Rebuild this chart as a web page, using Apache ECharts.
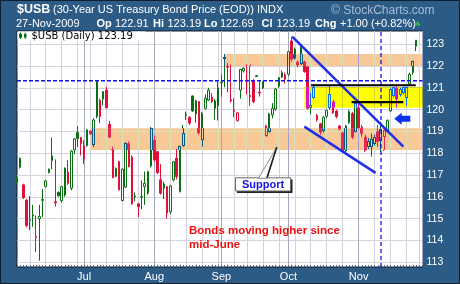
<!DOCTYPE html>
<html>
<head>
<meta charset="utf-8">
<script src="https://cdn.jsdelivr.net/npm/echarts@6/dist/echarts.min.js"></script>
<style>
  html, body { margin: 0; padding: 0; background: #2c5b86; }
  #chart { width: 460px; height: 284px; }
</style>
</head>
<body>
<div id="chart"></div>
<script>
// Trading days per month, 2009 (bond market sessions)
const juneDays = [2,3,4,5,8,9,10,11,12,15,16,17,18,19,22,23,24,25,26,29,30];
const julyDays = [1,2,6,7,8,9,10,13,14,15,16,17,20,21,22,23,24,27,28,29,30,31];
const augDays  = [3,4,5,6,7,10,11,12,13,14,17,18,19,20,21,24,25,26,27,28,31];
const sepDays  = [1,2,3,4,8,9,10,11,14,15,16,17,18,21,22,23,24,25,28,29,30];
const octDays  = [1,2,5,6,7,8,9,12,13,14,15,16,19,20,21,22,23,26,27,28,29,30];
const novDays  = [2,3,4,5,6,9,10,11,12,13,16,17,18,19,20,23,24,25,27];
// two empty sessions of head-room at the right edge
const padDates = ['2009-11-30', '2009-12-01'];

// $USB daily prices
const open = [
  116.67,117.36,116.55,115.85,114.92,115.12,114.17,115.00,115.84,116.47,
  117.11,117.66,115.78,116.20,115.82,116.08,117.14,116.40,118.15,118.95,
  118.72,117.74,118.35,119.02,118.38,119.68,120.44,120.49,120.90,119.33,
  118.18,116.93,117.61,115.83,116.45,118.45,117.82,116.00,115.68,115.98,
  116.47,116.17,117.42,118.61,118.07,116.78,116.39,116.47,115.32,116.78,
  117.77,116.24,118.35,119.74,119.65,120.63,119.80,120.37,118.61,120.06,
  120.44,120.57,120.06,120.20,121.23,122.34,122.00,120.45,119.98,119.50,
  120.90,121.78,121.35,120.65,121.32,121.52,120.80,121.28,118.80,119.02,
  119.76,120.02,121.09,121.50,121.60,121.62,123.15,122.77,122.20,122.10,
  122.20,121.97,120.10,120.54,119.73,119.35,119.05,119.70,120.09,120.37,
  119.94,119.25,118.95,118.10,119.40,119.82,119.02,120.10,119.20,118.75,
  118.33,118.33,118.45,119.00,118.60,118.75,119.02,119.94,120.63,121.00,
  120.71,120.78,120.58,121.19,121.70,122.91
];
const high = [
  116.90,117.80,116.60,115.90,116.04,115.63,115.14,115.63,116.35,116.78,
  117.30,118.72,117.72,116.25,116.50,117.35,117.69,118.15,118.70,119.25,
  118.75,118.60,119.10,119.05,119.60,121.33,120.50,120.85,121.05,119.48,
  118.30,117.35,117.65,117.30,118.50,118.55,117.90,116.20,115.72,116.75,
  117.16,117.20,119.20,118.80,118.10,117.50,116.70,116.50,116.55,117.65,
  118.20,118.35,119.30,119.91,119.70,120.65,120.45,120.40,119.90,120.70,
  121.00,120.76,120.50,121.30,121.62,122.55,122.15,122.08,120.52,119.88,
  121.88,121.95,122.08,122.08,121.40,121.60,121.30,121.30,119.30,119.85,
  120.30,121.00,121.50,121.80,121.70,122.70,123.35,122.85,122.25,122.95,
  122.25,122.00,120.78,121.18,119.80,119.40,119.70,120.00,121.09,120.45,
  120.00,119.30,119.00,119.30,120.00,119.90,120.30,120.25,119.30,118.85,
  118.70,118.90,118.85,119.30,119.45,119.15,119.55,121.00,121.05,121.10,
  121.00,121.05,121.05,121.70,122.25,123.19
];
const low = [
  116.60,117.30,115.90,114.60,114.48,114.63,113.46,113.07,115.06,116.44,
  117.08,117.27,115.55,116.00,115.75,116.00,116.55,116.30,117.95,118.30,
  117.90,117.50,118.30,118.85,118.28,119.60,119.38,120.20,120.05,118.70,
  116.85,116.90,116.30,115.80,116.40,117.35,115.65,115.80,115.06,115.44,
  115.63,116.10,117.35,117.60,117.05,116.10,115.90,115.00,115.20,116.70,
  116.80,116.20,118.30,119.53,119.30,119.90,119.40,118.85,118.30,120.00,
  120.40,120.30,119.53,119.50,120.60,121.03,120.80,120.32,119.65,119.45,
  120.50,121.70,120.70,120.17,120.30,121.50,120.60,120.95,118.75,118.95,
  119.60,119.95,121.00,121.45,121.20,121.55,122.20,122.30,121.95,122.05,
  121.70,120.00,119.79,120.50,119.45,118.85,118.95,119.60,120.00,119.80,
  119.60,119.05,118.05,118.05,119.35,118.65,118.95,119.10,118.75,118.05,
  118.20,117.85,118.35,118.30,118.05,118.10,118.95,119.90,120.55,120.10,
  120.60,120.70,120.17,121.10,121.60,122.69
];
const close = [
  116.85,117.77,115.96,114.68,114.96,115.16,114.13,115.10,115.88,116.73,
  117.27,117.88,115.73,116.05,116.47,117.31,116.62,118.10,118.66,118.68,
  118.44,118.33,119.07,118.88,119.53,121.30,119.68,120.83,120.09,118.72,
  116.88,117.31,116.32,117.27,118.43,117.39,115.67,116.04,115.55,116.02,
  116.62,117.16,119.15,117.69,117.11,116.17,116.59,115.25,116.50,117.61,
  116.93,118.30,118.89,119.78,119.38,119.94,120.41,118.92,119.83,120.52,
  120.90,120.37,120.40,121.00,121.27,122.38,121.95,120.40,119.93,119.86,
  121.85,121.90,121.30,120.60,120.37,121.56,120.76,121.00,119.25,119.80,
  120.06,120.94,121.47,121.70,121.40,122.66,122.30,122.35,122.04,122.90,
  121.74,120.06,120.17,121.03,119.53,118.95,119.65,119.97,120.70,119.86,
  119.68,119.10,118.10,119.25,119.91,118.72,120.27,119.15,118.90,118.13,
  118.56,118.64,118.72,118.53,119.10,119.05,119.51,120.94,121.01,120.48,
  120.94,121.00,121.02,121.62,122.19,123.19
];

// Price axis range
const priceMin = 112.78, priceMax = 123.61;
const monthNames = ['Jan','Feb','Mar','Apr','May','Jun','Jul','Aug','Sep','Oct','Nov','Dec'];

// Shaded zones: [fromSession, toSession, lowPrice, highPrice, kind]  kind 0 = peach, 1 = yellow
const zones = [
  [23.1, 127, 118.15, 119.15, 0],
  [65.1, 127, 122.00, 122.55, 0],
  [90.0, 127, 120.09, 121.03, 1]
];
// Drawn lines, as [session, price] pairs
const peakLevel   = [[0, 121.33], [127, 121.33]];
const markerDay   = [[114, priceMin], [114, priceMax]];
const channelTop  = [[86.2, 123.35], [121.0, 118.30]];
const channelBase = [[90.0, 119.22], [112.3, 117.10]];
const resistHigh  = [[92.1, 121.12], [124.9, 121.12]];
const resistLow   = [[104.8, 120.35], [121.0, 120.35]];

const GREEN = '#0b6e12', RED = '#e0103a';
const WEEK_GRID = '#d2d3de', MONTH_GRID = '#a3aabb';
const ZONE_FILL = ['#f8c896', '#ffff00'];
const BG = '#2c5b86';
const FONT = '"Liberation Sans", Arial, sans-serif';

// Session list
function iso(m, d) { return '2009-' + String(m).padStart(2, '0') + '-' + String(d).padStart(2, '0'); }
const dates = [].concat(
  juneDays.map(d => iso(6, d)), julyDays.map(d => iso(7, d)), augDays.map(d => iso(8, d)),
  sepDays.map(d => iso(9, d)), octDays.map(d => iso(10, d)), novDays.map(d => iso(11, d))
);
const axisDates = dates.concat(padDates);
const dow = s => new Date(s + 'T00:00:00Z').getUTCDay();
const mon = s => parseInt(s.slice(5, 7), 10);
const weekStart = axisDates.map((s, i) => i > 0 && dow(s) <= dow(axisDates[i - 1]));
const monthStart = axisDates.map((s, i) => i > 0 && mon(s) !== mon(axisDates[i - 1]));

// green/red versus the prior close; hollow when close > open
const trendColor = close.map((c, i) => (i === 0 || c >= close[i - 1]) ? GREEN : RED);
const candles = open.map((o, i) => {
  const c = close[i];
  const trend = trendColor[i];
  const fill = c > o ? '#ffffff' : trend;
  return {
    value: [o, c, low[i], high[i]],
    itemStyle: { color: fill, color0: fill, borderColor: trend, borderColor0: trend, borderWidth: 1 }
  };
});

// Zones are painted as an XOR highlighter: everything under them has its colour inverted
// against the zone's complement, which keeps white turning into the zone colour.
function rgbOf(hex) {
  const n = parseInt(hex.slice(1), 16);
  return [(n >> 16) & 255, (n >> 8) & 255, n & 255];
}
function xorWith(hex, zoneHex) {
  const a = rgbOf(hex), z = rgbOf(zoneHex);
  return 'rgb(' + a.map((v, j) => v ^ (255 - z[j])).join(',') + ')';
}
const crisp = v => Math.round(v - 0.5) + 0.5;

function renderZone(params, api) {
  const x0 = api.value(0), x1 = api.value(1), lo = api.value(2), hi = api.value(3);
  const zoneHex = ZONE_FILL[api.value(4)];
  const tl = api.coord([x0, hi]), br = api.coord([x1, lo]);
  const left = tl[0], top = tl[1], right = br[0], bottom = br[1];
  const yOf = v => api.coord([x0, v])[1];
  const children = [{
    type: 'rect', shape: { x: left, y: top, width: right - left, height: bottom - top },
    style: { fill: zoneHex }
  }];
  // grid lines seen through the zone
  for (let i = Math.ceil(x0); i <= x1 && i < axisDates.length; i++) {
    if (!weekStart[i] && !monthStart[i]) continue;
    const x = crisp(api.coord([i, lo])[0]);
    children.push({ type: 'line', shape: { x1: x, y1: top, x2: x, y2: bottom },
      style: { stroke: xorWith(monthStart[i] ? MONTH_GRID : WEEK_GRID, zoneHex), lineWidth: 1 } });
  }
  for (let v = Math.ceil(lo); v < hi; v++) {
    if (v <= lo) continue;
    const y = crisp(yOf(v));
    children.push({ type: 'line', shape: { x1: left, y1: y, x2: right, y2: y },
      style: { stroke: xorWith(WEEK_GRID, zoneHex), lineWidth: 1 } });
  }
  // candles seen through the zone
  for (let k = Math.ceil(x0 - 0.5); k <= x1 && k < open.length; k++) {
    const hiC = Math.min(high[k], hi), loC = Math.max(low[k], lo);
    if (hiC <= loC) continue;
    const cx = crisp(api.coord([k, lo])[0]);
    const col = xorWith(trendColor[k], zoneHex);
    children.push({ type: 'line', shape: { x1: cx, y1: yOf(hiC), x2: cx, y2: yOf(loC) },
      style: { stroke: col, lineWidth: 1 } });
    const bodyHi = Math.max(open[k], close[k]), bodyLo = Math.min(open[k], close[k]);
    const bTop = Math.min(bodyHi, hi), bBot = Math.max(bodyLo, lo);
    if (bTop <= bBot) continue;
    const yT = yOf(bTop), yB = yOf(bBot);
    if (close[k] > open[k]) {
      children.push({ type: 'rect', shape: { x: cx - 1, y: yT, width: 2, height: yB - yT }, style: { fill: zoneHex } });
      children.push({ type: 'line', shape: { x1: cx - 1, y1: yT, x2: cx - 1, y2: yB }, style: { stroke: col, lineWidth: 1 } });
      children.push({ type: 'line', shape: { x1: cx + 1, y1: yT, x2: cx + 1, y2: yB }, style: { stroke: col, lineWidth: 1 } });
      if (bodyHi <= hi) children.push({ type: 'line', shape: { x1: cx - 1.5, y1: crisp(yT), x2: cx + 1.5, y2: crisp(yT) }, style: { stroke: col, lineWidth: 1 } });
      if (bodyLo >= lo) children.push({ type: 'line', shape: { x1: cx - 1.5, y1: crisp(yB), x2: cx + 1.5, y2: crisp(yB) }, style: { stroke: col, lineWidth: 1 } });
    } else {
      children.push({ type: 'rect', shape: { x: cx - 1.5, y: yT, width: 3, height: Math.max(1, yB - yT) }, style: { fill: col } });
    }
  }
  return { type: 'group', children };
}

function lineSeries(name, data, color, width, type) {
  return {
    name, type: 'line', xAxisIndex: 1, yAxisIndex: 0, data,
    symbol: 'none', silent: true, z: 5, clip: true,
    lineStyle: { color, width, type: type || 'solid' }
  };
}

function hText(x, y, text, size, bold, fill, font) {
  return {
    type: 'text', x, y, z: 100, silent: true,
    style: { text, fill: fill || '#ffffff', font: (bold ? 'bold ' : '') + size + 'px ' + (font || FONT), verticalAlign: 'middle', align: 'left' }
  };
}

const chart = echarts.init(document.getElementById('chart'), null, { renderer: 'canvas' });
const headerY1 = 9.5, headerY2 = 23.5;

chart.setOption({
  animation: false,
  backgroundColor: BG,
  grid: {
    left: 17, right: 37.5, top: 31, bottom: 17,
    show: true, backgroundColor: '#ffffff', borderColor: '#0e1c30', borderWidth: 1
  },
  xAxis: [
    {
      type: 'category', data: axisDates, boundaryGap: false, position: 'bottom',
      axisLine: { show: false },
      axisTick: { show: true, inside: true, length: 2, interval: 0, lineStyle: { color: '#56627a', width: 1 } },
      axisLabel: {
        interval: 0, color: '#ffffff', fontSize: 11, fontFamily: FONT, margin: 4,
        formatter: (v, i) => (monthStart[i] && mon(v) !== 6 && i < dates.length) ? monthNames[mon(v) - 1] : ''
      },
      splitLine: { show: true, interval: (i) => weekStart[i], lineStyle: { color: WEEK_GRID, width: 1 } }
    },
    { type: 'value', min: 0, max: 127, show: false, position: 'top' },
    {
      type: 'category', data: axisDates, boundaryGap: false, position: 'top',
      axisLine: { show: false }, axisTick: { show: false }, axisLabel: { show: false },
      splitLine: { show: true, interval: (i) => monthStart[i], lineStyle: { color: MONTH_GRID, width: 1 } }
    }
  ],
  yAxis: [{
    type: 'value', position: 'right', min: priceMin, max: priceMax,
    minInterval: 1, maxInterval: 1,
    axisLine: { show: false }, axisTick: { show: false },
    axisLabel: { color: '#ffffff', fontSize: 10.5, fontFamily: FONT, margin: 4, showMinLabel: false, showMaxLabel: false },
    splitLine: { show: true, showMinLine: false, showMaxLine: false, lineStyle: { color: WEEK_GRID, width: 1 } }
  }],
  series: [
    {
      name: '$USB', type: 'candlestick', xAxisIndex: 0, yAxisIndex: 0,
      data: candles, barWidth: 2, z: 2, silent: true
    },
    {
      name: 'zones', type: 'custom', xAxisIndex: 1, yAxisIndex: 0, z: 3, silent: true,
      data: zones, encode: { x: [0, 1], y: [2, 3] },
      renderItem: renderZone
    },
    lineSeries('peak level', peakLevel, '#1111ee', 1.6, [4, 2]),
    lineSeries('marker day', markerDay, '#1111ee', 1.3, [4, 3]),
    lineSeries('channel top', channelTop, '#1f2fe6', 2.5),
    lineSeries('channel base', channelBase, '#1f2fe6', 2.5),
    lineSeries('resistance high', resistHigh, '#000000', 2.2),
    lineSeries('resistance low', resistLow, '#000000', 2.2)
  ],
  graphic: [
    // outer frame
    { type: 'rect', z: 100, silent: true, shape: { x: 0.5, y: 0.5, width: 459, height: 283 },
      style: { fill: null, stroke: '#12202f', lineWidth: 1 } },
    // heading
    hText(17, headerY1, '$USB', 12.5, true),
    hText(53, headerY1 + 0.5, '(30-Year US Treasury Bond Price (EOD)) INDX', 11, false),
    hText(331, headerY1 + 1, '\u00A9 StockCharts.com', 12, false, '#a7bdd6'),
    hText(16, headerY2, '27-Nov-2009', 11, false),
    hText(96.5, headerY2, 'Op', 11, true),
    hText(115, headerY2, '122.91', 11, false),
    hText(153, headerY2, 'Hi', 11, true),
    hText(167.5, headerY2, '123.19', 11, false),
    hText(204, headerY2, 'Lo', 11, true),
    hText(220, headerY2, '122.69', 11, false),
    hText(261.5, headerY2, 'Cl', 11, true),
    hText(276.5, headerY2, '123.19', 11, false),
    hText(315, headerY2, 'Chg', 11, true),
    hText(340, headerY2, '+1.00 (+0.82%)', 11, false),
    { type: 'polygon', z: 100, silent: true, shape: { points: [[414.5, 25.5], [421, 25.5], [417.75, 21]] },
      style: { fill: '#3dae4a' } },
    // in-chart legend
    { type: 'rect', z: 100, silent: true, shape: { x: 17.5, y: 31.5, width: 128, height: 9 }, style: { fill: '#ffffff' } },
    { type: 'rect', z: 101, silent: true, shape: { x: 19.5, y: 34, width: 2, height: 3.5 }, style: { fill: '#ffffff', stroke: GREEN, lineWidth: 1 } },
    { type: 'line', z: 101, silent: true, shape: { x1: 20.5, y1: 32.5, x2: 20.5, y2: 39 }, style: { stroke: GREEN, lineWidth: 1 } },
    { type: 'rect', z: 101, silent: true, shape: { x: 24, y: 34, width: 2.5, height: 3.5 }, style: { fill: GREEN } },
    { type: 'line', z: 101, silent: true, shape: { x1: 25.25, y1: 32.5, x2: 25.25, y2: 39 }, style: { stroke: GREEN, lineWidth: 1 } },
    hText(31.5, 36, '$USB (Daily) 123.19', 10, false, '#000000', '"DejaVu Sans", Verdana, sans-serif'),
    // left-pointing arrow
    { type: 'polygon', z: 100, silent: true,
      shape: { points: [[394.3, 118.8], [401.7, 112.8], [401.7, 115.8], [410.3, 115.8], [410.3, 121.8], [401.7, 121.8], [401.7, 124.8]] },
      style: { fill: '#0c30f2' } },
    // "Support" callout
    { type: 'rect', z: 100, silent: true, shape: { x: 237, y: 179.5, width: 55.5, height: 13.5 }, style: { fill: '#222222' } },
    { type: 'rect', z: 101, silent: true, shape: { x: 235.5, y: 177.8, width: 55, height: 13.2 },
      style: { fill: '#ffffff', stroke: '#6a6a6a', lineWidth: 1 } },
    { type: 'polygon', z: 102, silent: true, shape: { points: [[258.5, 178.3], [267, 178.3], [276.8, 147]] },
      style: { fill: '#ffffff', stroke: '#8a8a8a', lineWidth: 1 } },
    { type: 'line', z: 103, silent: true, shape: { x1: 267, y1: 177.8, x2: 276.8, y2: 147 }, style: { stroke: '#222222', lineWidth: 1.6 } },
    { type: 'text', z: 104, silent: true, x: 263, y: 184.5,
      style: { text: 'Support', fill: '#1414e6', font: 'bold 11px ' + FONT, align: 'center', verticalAlign: 'middle' } },
    // note
    hText(189, 230.7, 'Bonds moving higher since', 11.5, true, '#ee1111'),
    hText(189, 245, 'mid-June', 11.5, true, '#ee1111')
  ]
});
</script>
</body>
</html>
